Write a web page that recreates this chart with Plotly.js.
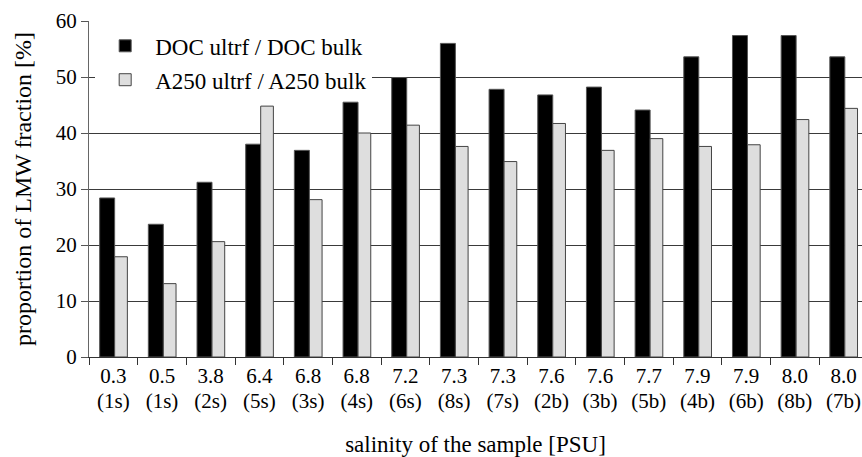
<!DOCTYPE html>
<html>
<head>
<meta charset="utf-8">
<script src="https://cdn.plot.ly/plotly-3.0.1.min.js"></script>
<style>html,body{margin:0;padding:0;background:#fff;}#chart{width:862px;height:457px;}</style>
</head>
<body>
<div id="chart"></div>
<script>
const salinity = ['0.3','0.5','3.8','6.4','6.8','6.8','7.2','7.3','7.3','7.6','7.6','7.7','7.9','7.9','8.0','8.0'];
const sampleIds = ['(1s)','(1s)','(2s)','(5s)','(3s)','(4s)','(6s)','(8s)','(7s)','(2b)','(3b)','(5b)','(4b)','(6b)','(8b)','(7b)'];
const docRatio = [28.4,23.7,31.2,38.0,36.9,45.5,49.9,56.0,47.8,46.8,48.2,44.1,53.6,57.4,57.4,53.6];
const a250Ratio = [17.9,13.1,20.6,44.8,28.1,40.0,41.4,37.6,34.9,41.7,36.9,39.0,37.6,37.9,42.4,44.4];
const seriesNames = ['DOC ultrf / DOC bulk', 'A250 ultrf / A250 bulk'];

const keys = salinity.map((s, i) => s + ' ' + sampleIds[i]);
const FONT = "'Liberation Serif', 'Times New Roman', serif";
const xRange = [-0.5, 15.38];

const traces = [
  {
    type: 'bar', name: seriesNames[0], x: keys, y: docRatio,
    xaxis: 'x', yaxis: 'y', legendgroup: 'a',
    offset: -0.281, width: 0.308,
    marker: {color: '#000000', line: {color: '#555555', width: 1}},
    hoverinfo: 'skip'
  },
  {
    type: 'bar', name: seriesNames[1], x: keys, y: a250Ratio,
    xaxis: 'x2', yaxis: 'y', legendgroup: 'b',
    offset: 0.027, width: 0.261,
    marker: {color: '#dedede', line: {color: '#444444', width: 1}},
    hoverinfo: 'skip'
  }
];

const layout = {
  width: 862, height: 457,
  margin: {l: 89, r: 0, t: 21, b: 100},
  paper_bgcolor: '#ffffff', plot_bgcolor: '#ffffff',
  font: {family: FONT, size: 21, color: '#000000'},
  barmode: 'overlay',
  showlegend: true,
  legend: {
    x: 0.008, y: 0.99, xanchor: 'left', yanchor: 'top',
    bgcolor: '#ffffff', borderwidth: 0,
    font: {family: FONT, size: 23, color: '#000000'},
    traceorder: 'grouped', tracegroupgap: 1, itemwidth: 50
  },
  xaxis: {
    type: 'category', categoryorder: 'array', categoryarray: keys,
    range: xRange, tickmode: 'array', tickvals: keys, ticktext: salinity,
    tickson: 'boundaries', ticks: 'outside', ticklen: 7, tickcolor: '#333333',
    showgrid: false, showline: true, linecolor: '#333333', linewidth: 1,
    zeroline: false, fixedrange: true,
    tickfont: {family: FONT, size: 21, color: '#000000'},
    title: {text: 'salinity of the sample [PSU]', font: {family: FONT, size: 23, color: '#000000'}, standoff: 54},
    automargin: false
  },
  xaxis2: {
    type: 'category', categoryorder: 'array', categoryarray: keys,
    overlaying: 'x', anchor: 'y', side: 'bottom',
    range: xRange, tickmode: 'array', tickvals: keys, ticktext: sampleIds,
    ticks: '', showgrid: false, showline: false, zeroline: false,
    ticklabelstandoff: 29, fixedrange: true,
    tickfont: {family: FONT, size: 21, color: '#000000'},
    automargin: false
  },
  yaxis: {
    range: [0, 60], tickmode: 'linear', tick0: 0, dtick: 10,
    ticks: 'outside', ticklen: 7, tickcolor: '#555555',
    showgrid: true, gridcolor: '#3a3a3a', gridwidth: 1,
    showline: true, linecolor: '#666666', linewidth: 1,
    zeroline: false, fixedrange: true,
    tickfont: {family: FONT, size: 21, color: '#000000'},
    title: {text: 'proportion of LMW fraction [%]', font: {family: FONT, size: 24, color: '#000000'}, standoff: 17},
    automargin: false
  }
};

Plotly.newPlot('chart', traces, layout, {displayModeBar: false, staticPlot: true});
</script>
</body>
</html>
